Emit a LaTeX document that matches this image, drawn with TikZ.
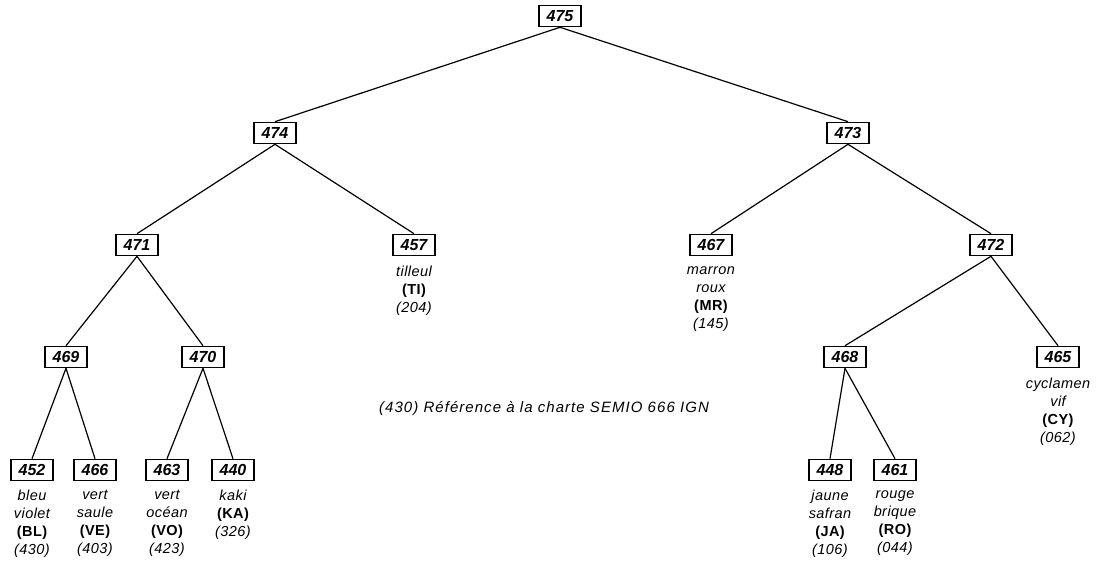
\documentclass[tikz,border=0pt]{standalone}
\usepackage{fontspec}
\setmainfont{Liberation Sans}
\begin{document}
\begin{tikzpicture}[x=1pt,y=-1pt,
  box/.style={draw,line width=1.6pt,minimum width=42pt,minimum height=21pt,inner sep=0pt,font=\fontsize{16}{16}\selectfont\bfseries\itshape},
  lbl/.style={align=center,anchor=north,inner sep=0pt,font=\fontsize{14.5}{18}\selectfont\itshape\addfontfeature{LetterSpace=3}},
  edge/.style={line width=1.2pt}]
\useasboundingbox (0,0) rectangle (1104,569);
\newcommand\cd[1]{{\upshape\bfseries #1}}
% level 0
\node[box] (n475) at (560,16) {475};
% level 1
\node[box] (n474) at (275,133) {474};
\node[box] (n473) at (848,133) {473};
% level 2
\node[box] (n471) at (137,245) {471};
\node[box] (n457) at (414,245) {457};
\node[box] (n467) at (711,245) {467};
\node[box] (n472) at (991,245) {472};
% level 3
\node[box] (n469) at (66,357) {469};
\node[box] (n470) at (203,357) {470};
\node[box] (n468) at (845,357) {468};
\node[box] (n465) at (1058,357) {465};
% level 4
\node[box] (n452) at (32,470) {452};
\node[box] (n466) at (95,470) {466};
\node[box] (n463) at (167,470) {463};
\node[box] (n440) at (233,470) {440};
\node[box] (n448) at (830,470) {448};
\node[box] (n461) at (895,470) {461};
% edges
\draw[edge] (n475.south) -- (n474.north);
\draw[edge] (n475.south) -- (n473.north);
\draw[edge] (n474.south) -- (n471.north);
\draw[edge] (n474.south) -- (n457.north);
\draw[edge] (n473.south) -- (n467.north);
\draw[edge] (n473.south) -- (n472.north);
\draw[edge] (n471.south) -- (n469.north);
\draw[edge] (n471.south) -- (n470.north);
\draw[edge] (n472.south) -- (n468.north);
\draw[edge] (n472.south) -- (n465.north);
\draw[edge] (n469.south) -- (n452.north);
\draw[edge] (n469.south) -- (n466.north);
\draw[edge] (n470.south) -- (n463.north);
\draw[edge] (n470.south) -- (n440.north);
\draw[edge] (n468.south) -- (n448.north);
\draw[edge] (n468.south) -- (n461.north);
% labels
\node[lbl] (l457) at (414,266) {tilleul\\\cd{(TI)}\\(204)};
\node[lbl] (l467) at (711,266) {marron\\roux\\\cd{(MR)}\\(145)};
\node[lbl] (l465) at (1058,378) {cyclamen\\vif\\\cd{(CY)}\\(062)};
\node[lbl] (l452) at (32,490) {bleu\\violet\\\cd{(BL)}\\(430)};
\node[lbl] (l466) at (95,490) {vert\\saule\\\cd{(VE)}\\(403)};
\node[lbl] (l463) at (167,490) {vert\\océan\\\cd{(VO)}\\(423)};
\node[lbl] (l440) at (233,490) {kaki\\\cd{(KA)}\\(326)};
\node[lbl] (l448) at (830,490) {jaune\\safran\\\cd{(JA)}\\(106)};
\node[lbl] (l461) at (895,490) {rouge\\brique\\\cd{(RO)}\\(044)};
\node[font=\fontsize{15}{15}\selectfont\itshape\addfontfeature{LetterSpace=7},inner sep=0pt] (cap) at (544,409) {(430) Référence à la charte SEMIO 666 IGN};
\end{tikzpicture}
\end{document}
